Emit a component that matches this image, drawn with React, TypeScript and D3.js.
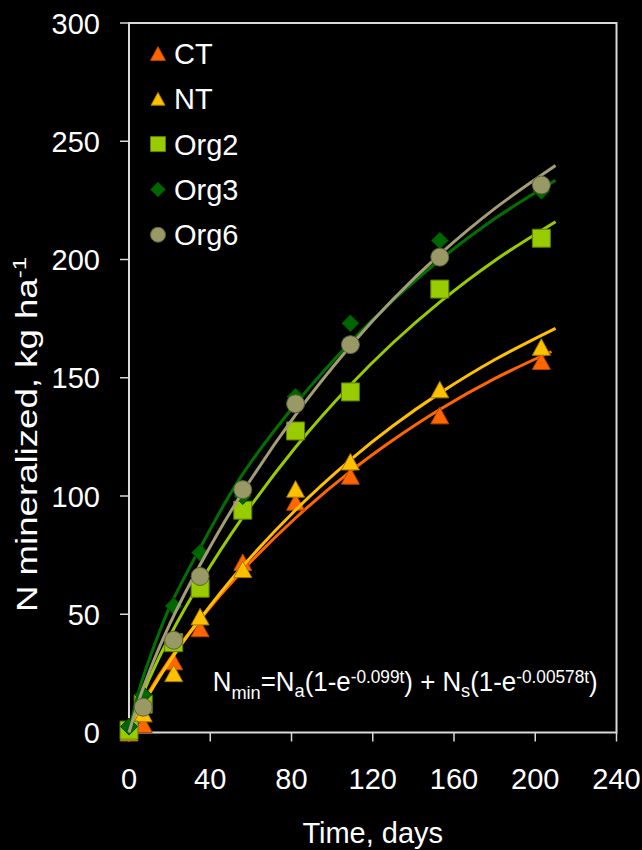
import React from "react";
import * as d3 from "d3";

// ---- data ----
const obsDays = [0, 7, 22, 35, 56, 82, 109, 153, 203];
const obsDaysOrg6 = [7, 22, 35, 56, 82, 109, 153, 203];
const ctObs = [0, 3.5, 30, 44, 72, 97.5, 108.5, 134, 157];
const ntObs = [0, 8, 25, 49, 69, 103, 114.5, 145, 163];
const org2Obs = [1, 12, 38, 61, 94, 127.5, 144, 187.5, 209];
const org3Obs = [2.5, 16, 53.5, 76, 100, 142, 173, 208, 229];
const org6Obs = [10.7, 39, 66, 102.7, 139, 164, 201, 231.5];

const curveDays = [0, 5, 10, 20, 35, 55, 82, 109, 130, 153, 180, 210];
const ctCurveDays = [0, 5, 10, 20, 35, 55, 82, 109, 130, 153, 180, 208];
const ctCurve = [0, 9.3, 17.3, 30.8, 47.9, 67.7, 90.7, 110.4, 123.7, 136.6, 149.6, 161.1];
const ntCurve = [0, 8.7, 16.4, 30.1, 48, 69.3, 94.1, 115.3, 129.7, 143.5, 157.6, 170.9];
const org2Curve = [0, 12.3, 22.8, 40.6, 63.3, 89.8, 120.6, 146.9, 164.8, 182, 199.5, 216];
const org3Curve = [0, 18, 31, 53, 78, 108, 138.9, 165, 182.7, 199.8, 217.2, 233.5];
const org6Curve = [0, 13.9, 25.7, 45.7, 70.9, 100.3, 134.3, 163.4, 183.2, 202.2, 221.5, 239.7];

const xTicks = [0, 40, 80, 120, 160, 200, 240];
const yTicks = [0, 50, 100, 150, 200, 250, 300];
const seriesNames = ["CT", "NT", "Org2", "Org3", "Org6"];

const FONT = "'Liberation Sans', Arial, Helvetica, sans-serif";

type Shape = "tri" | "sq" | "dia" | "circ";

const seriesStyle: Record<string, { shape: Shape; fill: string; stroke: string; line: string }> = {
  CT: { shape: "tri", fill: "#FF6600", stroke: "#B84400", line: "#FF6600" },
  NT: { shape: "tri", fill: "#FFC000", stroke: "#A07800", line: "#FFC000" },
  Org2: { shape: "sq", fill: "#99CC00", stroke: "#5E7F00", line: "#99CC00" },
  Org3: { shape: "dia", fill: "#006600", stroke: "#004000", line: "#007000" },
  Org6: { shape: "circ", fill: "#999966", stroke: "#5F5F3A", line: "#A39D78" },
};

function markerPath(shape: Shape, s: number): string {
  if (shape === "tri") {
    const w = s, h = s * 0.92;
    return `M0,${-h / 2}L${w / 2},${h / 2}L${-w / 2},${h / 2}Z`;
  }
  if (shape === "sq") return d3.symbol(d3.symbolSquare, s * s)() as string;
  if (shape === "circ") return d3.symbol(d3.symbolCircle, Math.PI * (s / 2) * (s / 2))() as string;
  const r = s / 2;
  return `M0,${-r}L${r},0L0,${r}L${-r},0Z`;
}

export default function App() {
  const W = 642, H = 850;
  const x = d3.scaleLinear().domain([0, 240]).range([129, 616.5]);
  const y = d3.scaleLinear().domain([0, 300]).range([732.5, 23]);

  const line = d3
    .line<[number, number]>()
    .x((d) => x(d[0]))
    .y((d) => y(d[1]))
    .curve(d3.curveCatmullRom.alpha(0.5));

  const series = [
    { name: "CT", days: obsDays, obs: ctObs, cDays: ctCurveDays, curve: ctCurve },
    { name: "NT", days: obsDays, obs: ntObs, cDays: curveDays, curve: ntCurve },
    { name: "Org2", days: obsDays, obs: org2Obs, cDays: curveDays, curve: org2Curve },
    { name: "Org3", days: obsDays, obs: org3Obs, cDays: curveDays, curve: org3Curve },
    { name: "Org6", days: obsDaysOrg6, obs: org6Obs, cDays: curveDays, curve: org6Curve },
  ];

  const markerSize: Record<Shape, number> = { tri: 18, sq: 18, dia: 17, circ: 18 };
  const axisColor = "#D9D9D9";

  return (
    <>
      <style>{`body{margin:0;background:#000;}`}</style>
      <svg width={W} height={H} style={{ display: "block", background: "#000" }} fontFamily={FONT}>
        <rect x={0} y={0} width={W} height={H} fill="#000" />
        {/* frame */}
        <rect
          x={x(0)}
          y={y(300)}
          width={x(240) - x(0)}
          height={y(0) - y(300)}
          fill="none"
          stroke={axisColor}
          strokeWidth={2}
        />
        {/* y ticks */}
        {yTicks.map((t) => (
          <g key={"y" + t}>
            <line x1={x(0) - 9} x2={x(0)} y1={y(t)} y2={y(t)} stroke={axisColor} strokeWidth={1.5} />
            <text x={100} y={y(t) + 10.5} textAnchor="end" fontSize={29} fill="#fff">
              {t}
            </text>
          </g>
        ))}
        {/* x ticks */}
        {xTicks.map((t) => (
          <g key={"x" + t}>
            <line x1={x(t)} x2={x(t)} y1={y(0)} y2={y(0) + 9} stroke={axisColor} strokeWidth={1.5} />
            <text x={x(t)} y={789} textAnchor="middle" fontSize={29} fill="#fff">
              {t}
            </text>
          </g>
        ))}
        {/* axis titles */}
        <text x={(x(0) + x(240)) / 2} y={842.5} textAnchor="middle" fontSize={29} fill="#fff">
          Time, days
        </text>
        <text
          transform={`translate(37,612) rotate(-90)`}
          textAnchor="start"
          fontSize={29}
          fill="#fff"
          textLength={355}
          lengthAdjust="spacingAndGlyphs"
        >
          N mineralized, kg ha
          <tspan dy={-11} fontSize={19}>
            -1
          </tspan>
        </text>

        {/* series */}
        {series.map((s) => {
          const st = seriesStyle[s.name];
          const pts = s.cDays.map((d, i) => [d, s.curve[i]] as [number, number]);
          const p = markerPath(st.shape, markerSize[st.shape]);
          return (
            <g key={s.name}>
              <path d={line(pts) as string} fill="none" stroke={st.line} strokeWidth={3} />
              {s.days.map((d, i) => (
                <path
                  key={i}
                  d={p}
                  transform={`translate(${x(d)},${y(s.obs[i])})`}
                  fill={st.fill}
                  stroke={st.stroke}
                  strokeWidth={1}
                />
              ))}
            </g>
          );
        })}

        {/* legend */}
        {seriesNames.map((n, i) => {
          const st = seriesStyle[n];
          const base = 64 + i * 45.3;
          const sz = n === "NT" ? 14 : 15;
          return (
            <g key={"lg" + n}>
              <path
                d={markerPath(st.shape, sz)}
                transform={`translate(158,${base - 10.5})`}
                fill={st.fill}
                stroke={st.stroke}
                strokeWidth={1}
              />
              <text x={174} y={base} fontSize={29} fill="#fff">
                {n}
              </text>
            </g>
          );
        })}

        {/* equation */}
        <text x={212.7} y={690.7} fontSize={27} fill="#fff" textLength={385} lengthAdjust="spacingAndGlyphs">
          N
          <tspan fontSize={19} dy={8}>min</tspan>
          <tspan dy={-8}>=N</tspan>
          <tspan fontSize={19} dy={6}>a</tspan>
          <tspan dy={-6}>(1-e</tspan>
          <tspan fontSize={18} dy={-8}>-0.099t</tspan>
          <tspan dy={8}>) + N</tspan>
          <tspan fontSize={19} dy={6}>s</tspan>
          <tspan dy={-6}>(1-e</tspan>
          <tspan fontSize={18} dy={-8}>-0.00578t</tspan>
          <tspan dy={8}>)</tspan>
        </text>
      </svg>
    </>
  );
}
